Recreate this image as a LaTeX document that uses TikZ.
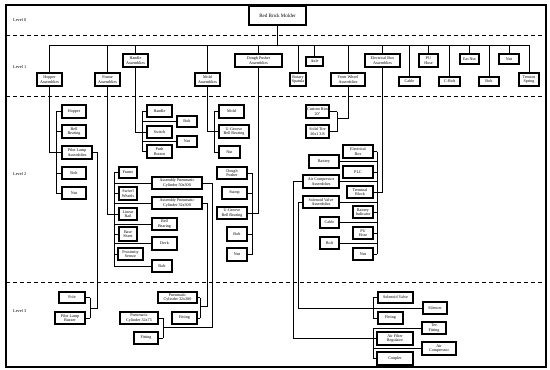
\documentclass[tikz,border=0pt]{standalone}
\usepackage{fontspec}
\setmainfont{Liberation Serif}
\newcommand\boxfont{\fontsize{4.1}{4.5}\selectfont}
\newcommand\lvlfont{\fontsize{4.3}{5}\selectfont}
\tikzset{
  bx/.style={draw, line width=1.1pt, inner sep=0pt, align=center, font=\boxfont},
  ln/.style={line width=0.6pt},
  lvl/.style={anchor=west, inner sep=0pt, font=\lvlfont},
  sep/.style={line width=0.75pt, dash pattern=on 4pt off 3pt}
}
\newcommand\bx[6]{\node[bx, minimum width={(#4-#2)*1pt}, minimum height={(#5-#3)*1pt}] (#1) at ({(#2+#4)/2},{(#3+#5)/2}) {#6};}
\newcommand\brk[3]{\foreach \n in {#3} {\draw[ln] (\n.#2) -- (\n.#2 -| #1);}}
\begin{document}
\begin{tikzpicture}[x=1pt,y=-1pt]
\useasboundingbox (0,0) rectangle (550,370);
% frame and level separators
\draw[line width=1.6pt] (6,5) rectangle (546,367);
\draw[sep] (6,35) -- (546,35);
\draw[sep] (6,96) -- (546,96);
\draw[sep] (6,282) -- (546,282);
\node[lvl] (l0) at (13,20) {Level 0};
\node[lvl] (l1) at (13,67) {Level 1};
\node[lvl] (l2) at (13,174) {Level 2};
\node[lvl] (l3) at (13,311) {Level 3};
% Level 0
\node[bx, font=\fontsize{5}{6}\selectfont, minimum width=57pt, minimum height=19pt] (rbm) at (277.5,15.5) {Red Brick Molder};
% Level 1
\bx{hopA}{37}{73}{62}{86}{Hopper\\Assemblies}
\bx{frA}{95}{73}{120}{86}{Frame\\Assemblies}
\bx{hanA}{123}{54}{148}{67}{Handle\\Assemblies}
\bx{molA}{195}{73}{220}{86}{Mold\\Assemblies}
\bx{dpA}{235}{54}{282}{67}{Dough Pusher\\Assemblies}
\bx{rsp}{290}{73}{306}{86}{Rotary\\Spatula}
\bx{axle}{306}{57}{323}{66}{Axle}
\bx{fwA}{331}{73}{365}{86}{Front Wheel\\Assemblies}
\bx{ebA}{365}{54}{400}{67}{Electrical Box\\Assemblies}
\bx{cable1}{399}{77}{420}{86}{Cable}
\bx{puh1}{419}{54}{438}{67}{PU\\Hose}
\bx{cbolt}{439}{77}{460}{86}{C-Bolt}
\bx{eatnut}{460}{54}{479}{64}{Eat Nut}
\bx{bolt1}{479}{77}{499}{86}{Bolt}
\bx{nut1}{499}{54}{519}{64}{Nut}
\bx{tsp}{519}{73}{539}{86}{Tension\\Spring}
\coordinate (bus) at (0,45);
\draw[ln] (rbm.south) -- (rbm.south |- bus);
\draw[ln] (hopA.north |- bus) -- (tsp.north |- bus);
\foreach \n in {hopA,frA,hanA,molA,dpA,rsp,axle,fwA,ebA,cable1,puh1,cbolt,eatnut,bolt1,nut1,tsp}
  {\draw[ln] (\n.north) -- (\n.north |- bus);}
% Hopper group
\bx{hop}{62}{105}{86}{118}{Hopper}
\bx{bb1}{62}{125}{86}{138}{Bell\\Bearing}
\bx{pla}{62}{146}{92}{159}{Pilot Lamp\\Assemblies}
\bx{bolt2}{62}{167}{86}{179}{Bolt}
\bx{nut2}{62}{187}{86}{199}{Nut}
\coordinate (bHop) at (56,0);
\draw[ln] (hop.west -| bHop) -- (nut2.west -| bHop);
\brk{bHop}{west}{hop,bb1,pla,bolt2,nut2}
\draw[ln] (hopA.south) |- (pla.west);
% Pilot lamp level 3
\bx{pole}{59}{292}{85}{303}{Pole}
\bx{plb}{55}{312}{85}{324}{Pilot Lamp\\Buzzer}
\coordinate (bPL) at (90,0);
\draw[ln] (pole.east -| bPL) -- (plb.east -| bPL);
\brk{bPL}{east}{pole,plb}
\coordinate (cPL) at (90,308);
\draw[ln] (pla.east) -- ++(5,0) |- (cPL);
% Handle group
\bx{han}{147}{105}{172}{117}{Handle}
\bx{bolt3}{177}{116}{197}{127}{Bolt}
\bx{sw}{147}{126}{172}{138}{Switch}
\bx{nut3}{177}{136}{197}{147}{Nut}
\bx{pb}{147}{145}{172}{158}{Push\\Button}
\coordinate (bHan) at (142,0);
\draw[ln] (han.west -| bHan) -- (pb.west -| bHan);
\brk{bHan}{west}{han,bolt3,sw,nut3,pb}
\draw[ln] (hanA.south) |- (sw.west);
% Frame group
\bx{frm}{119}{167}{137}{178}{Frame}
\bx{swh}{119}{187}{137}{200}{Swivel\\Wheels}
\bx{lr}{119}{208}{137}{220}{Linear\\Rail}
\bx{bs}{119}{227}{137}{241}{Base\\Sheet}
\bx{ps}{118}{248}{143}{260}{Proximity\\Sensor}
\bx{apc50}{152}{177}{202}{189}{Assembly Pneumatic\\Cylinder 50x300}
\bx{apc32}{152}{197}{202}{209}{Assembly Pneumatic\\Cylinder 32x300}
\bx{bb2}{152}{218}{177}{230}{Bell\\Bearing}
\bx{deck}{152}{237}{177}{250}{Deck}
\bx{bolt4}{152}{260}{172}{272}{Bolt}
\coordinate (bFr) at (114,0);
\draw[ln] (frm.west -| bFr) -- (bolt4.west -| bFr);
\brk{bFr}{west}{frm,swh,lr,bs,ps,apc50,apc32,bb2,deck,bolt4}
\draw[ln] (frA.south) |- (lr.west);
% Pneumatic level 3
\bx{pc32300}{158}{292}{197}{303}{Pneumatic\\Cylinder 32x300}
\bx{fit1}{172}{312}{197}{324}{Fitting}
\bx{pc3275}{120}{312}{158}{324}{Pneumatic\\Cylinder 32x75}
\bx{fit2}{134}{332}{158}{344}{Fitting}
\coordinate (bP1) at (200,0);
\draw[ln] (pc32300.east -| bP1) -- (fit1.east -| bP1);
\brk{bP1}{east}{pc32300,fit1}
\coordinate (bP2) at (163,0);
\draw[ln] (pc3275.east -| bP2) -- (fit2.east -| bP2);
\brk{bP2}{east}{pc3275,fit2}
\coordinate (cP1) at (200,306);
\coordinate (cP2) at (163,327);
\draw[ln] (apc32.east) -- ++(5,0) |- (cP1);
\draw[ln] (apc50.east) -- ++(10,0) |- (cP2);
% Mold group
\bx{mold}{219}{105}{244}{118}{Mold}
\bx{ugbb1}{219}{125}{249}{138}{U-Groove\\Bell Bearing}
\bx{nut5}{219}{146}{240}{158}{Nut}
\coordinate (bMo) at (214,0);
\draw[ln] (mold.west -| bMo) -- (nut5.west -| bMo);
\brk{bMo}{west}{mold,ugbb1,nut5}
\draw[ln] (molA.south) |- (ugbb1.west);
% Dough pusher group
\bx{dp}{217}{167}{247}{179}{Dough\\Pusher}
\bx{stamp}{222}{187}{247}{199}{Stamp}
\bx{ugbb2}{217}{207}{247}{219}{U-Groove\\Bell Bearing}
\bx{bolt6}{227}{227}{247}{241}{Bolt}
\bx{nut6}{227}{248}{247}{261}{Nut}
\coordinate (bDp) at (252,0);
\draw[ln] (dp.east -| bDp) -- (nut6.east -| bDp);
\brk{bDp}{east}{dp,stamp,ugbb2,bolt6,nut6}
\draw[ln] (dpA.south) |- (ugbb2.east);
% Front wheel group
\bx{rim}{306}{105}{329}{118}{Custom Rim\\20"}
\bx{tire}{306}{125}{329}{138}{Solid Tire\\20x1 3/8}
\coordinate (bFw) at (337,0);
\draw[ln] (rim.east -| bFw) -- (tire.east -| bFw);
\brk{bFw}{east}{rim,tire}
\coordinate (cFW) at (337,118);
\draw[ln] (fwA.south) |- (cFW);
% Electrical group
\bx{ebox}{343}{145}{373}{158}{Electrical\\Box}
\bx{batt}{309}{155}{339}{168}{Battery}
\bx{plc}{343}{166}{373}{178}{PLC}
\bx{aca}{303}{175}{339}{188}{Air Compressor\\Assemblies}
\bx{tb}{347}{186}{373}{198}{Terminal\\Block}
\bx{sva}{303}{196}{339}{208}{Solenoid Valve\\Assemblies}
\bx{bi}{353}{206}{373}{218}{Battery\\Indicator}
\bx{cable2}{320}{217}{339}{228}{Cable}
\bx{puh2}{353}{227}{373}{239}{PU\\Hose}
\bx{bolt7}{320}{237}{339}{249}{Bolt}
\bx{nut7}{353}{248}{373}{260}{Nut}
\coordinate (bEb) at (377,0);
\draw[ln] (ebox.east -| bEb) -- (nut7.east -| bEb);
\brk{bEb}{east}{ebox,batt,plc,aca,tb,sva,bi,cable2,puh2,bolt7,nut7}
\draw[ln] (ebA.south) |- (tb.east);
% Level 3 right
\bx{sv}{378}{292}{413}{303}{Solenoid Valve}
\bx{fit3}{378}{312}{403}{324}{Fitting}
\bx{sil}{423}{302}{447}{314}{Silencer}
\bx{tee}{422}{322}{446}{334}{Tee\\Fitting}
\bx{afr}{377}{332}{413}{345}{Air Filter\\Regulator}
\bx{acomp}{422}{342}{456}{355}{Air\\Compressor}
\bx{coup}{377}{352}{413}{365}{Coupler}
\coordinate (bSv) at (373,0);
\draw[ln] (sv.west -| bSv) -- (fit3.west -| bSv);
\brk{bSv}{west}{sv,fit3}
\draw[ln] (tee.west -| bSv) -- (coup.west -| bSv);
\brk{bSv}{west}{tee,afr,acomp,coup}
\draw[ln] (aca.west) -- ++(-9,0) |- (afr.west);
\draw[ln] (sva.west) -- ++(-4,0) |- (sil.west);
\end{tikzpicture}
\end{document}
